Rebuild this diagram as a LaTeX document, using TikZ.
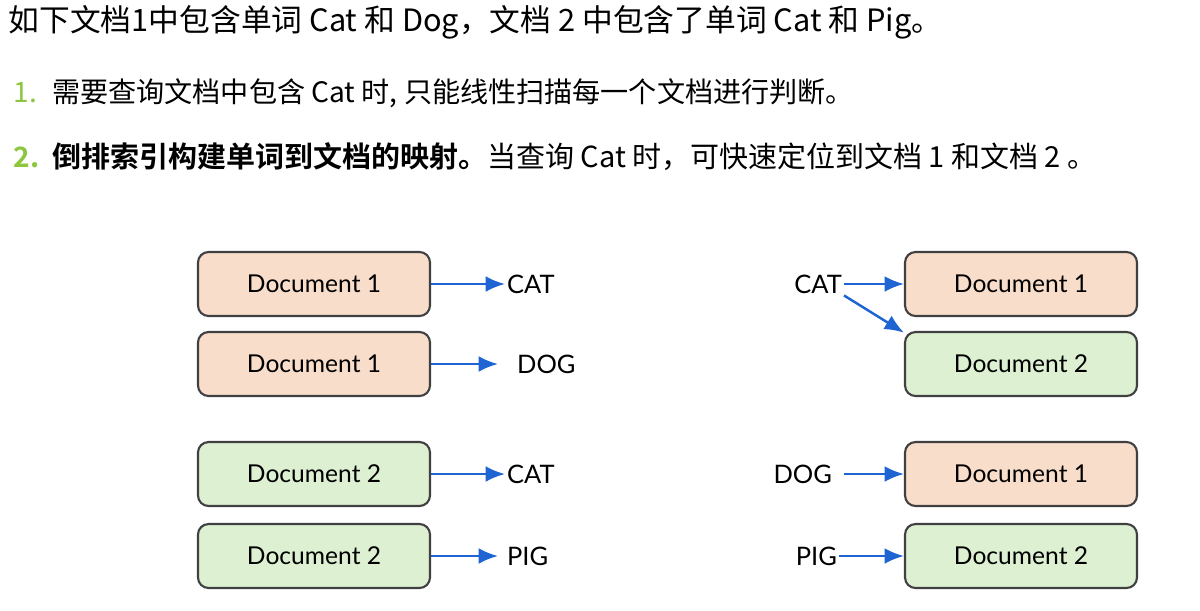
\documentclass[tikz,border=0pt]{standalone}
\usepackage{fontspec}
\setmainfont{Lato}
\newfontfamily\cjk{Noto Sans CJK SC}[BoldFont={Noto Sans CJK SC Bold}]
\usepackage{xcolor}
\usetikzlibrary{positioning}
\usetikzlibrary{arrows.meta}
\definecolor{peach}{HTML}{F9DDCB}
\definecolor{mint}{HTML}{DDF0D2}
\definecolor{arrowblue}{HTML}{1E64D2}
\definecolor{numgreen}{HTML}{8CC63F}
\tikzset{
  doc/.style={draw=black!75, line width=1.2pt, rounded corners=6pt,
    minimum width=4.64cm, minimum height=1.28cm, font=\fontsize{14}{17}\selectfont},
  doca/.style={doc, fill=peach},
  docb/.style={doc, fill=mint},
  word/.style={font=\fontsize{14.5}{17}\selectfont, inner sep=1pt},
  link/.style={draw=arrowblue, line width=1.4pt, -{Latex[length=11pt,width=9pt]}}
}
\begin{document}
\begin{tikzpicture}
\useasboundingbox (0,0) rectangle (24,-12.2);

% Header text
\node[anchor=west, font=\cjk\fontsize{17.5}{20}\selectfont] (title) at (0.05,-0.44)
  {如下文档1中包含单词 Cat 和 Dog，文档 2 中包含了单词 Cat 和 Pig。};
\node[anchor=west, font=\cjk\fontsize{16}{19}\selectfont, text=numgreen] (n1) at (0.15,-1.86) {1.};
\node[anchor=west, font=\cjk\fontsize{16}{19}\selectfont] (t1) at (0.92,-1.86)
  {需要查询文档中包含 Cat 时, 只能线性扫描每一个文档进行判断。};
\node[anchor=west, font=\cjk\bfseries\fontsize{16}{19}\selectfont, text=numgreen] (n2) at (0.15,-3.14) {2.};
\node[anchor=west, font=\cjk\fontsize{16.5}{19}\selectfont] (t2) at (0.92,-3.14)
  {\textbf{倒排索引构建单词到文档的映射。}当查询 Cat 时，可快速定位到文档 1 和文档 2 。};

% Forward index
\node[doca] (fa) at (6.28,-5.68) {Document 1};
\node[doca] (fb) at (6.28,-7.28) {Document 1};
\node[docb] (fc) at (6.28,-9.48) {Document 2};
\node[docb] (fd) at (6.28,-11.12) {Document 2};
\node[word, anchor=west] (wa) at (10.1,-5.68) {CAT};
\node[word, anchor=west] (wb) at (10.3,-7.28) {DOG};
\node[word, anchor=west] (wc) at (10.1,-9.48) {CAT};
\node[word, anchor=west] (wd) at (10.1,-11.12) {PIG};
\draw[link] (fa) -- (wa);
\draw[link] (fb) -- (9.96,-7.28);
\draw[link] (fc) -- (wc);
\draw[link] (fd) -- (9.96,-11.12);

% Inverted index
\node[doca] (ia) at (20.42,-5.68) {Document 1};
\node[docb] (ib) at (20.42,-7.28) {Document 2};
\node[doca] (ic) at (20.42,-9.48) {Document 1};
\node[docb] (id) at (20.42,-11.12) {Document 2};
\node[word, anchor=east] (va) at (16.88,-5.68) {CAT};
\node[word, anchor=east] (vc) at (16.68,-9.48) {DOG};
\node[word, anchor=east] (vd) at (16.78,-11.12) {PIG};
\draw[link] (va) -- (ia);
\draw[link] (va.south east) -- (ib.165);
\draw[link] (vc.east) ++(0.2,0) -- (ic);
\draw[link] (vd) -- (id);

\end{tikzpicture}
\end{document}
